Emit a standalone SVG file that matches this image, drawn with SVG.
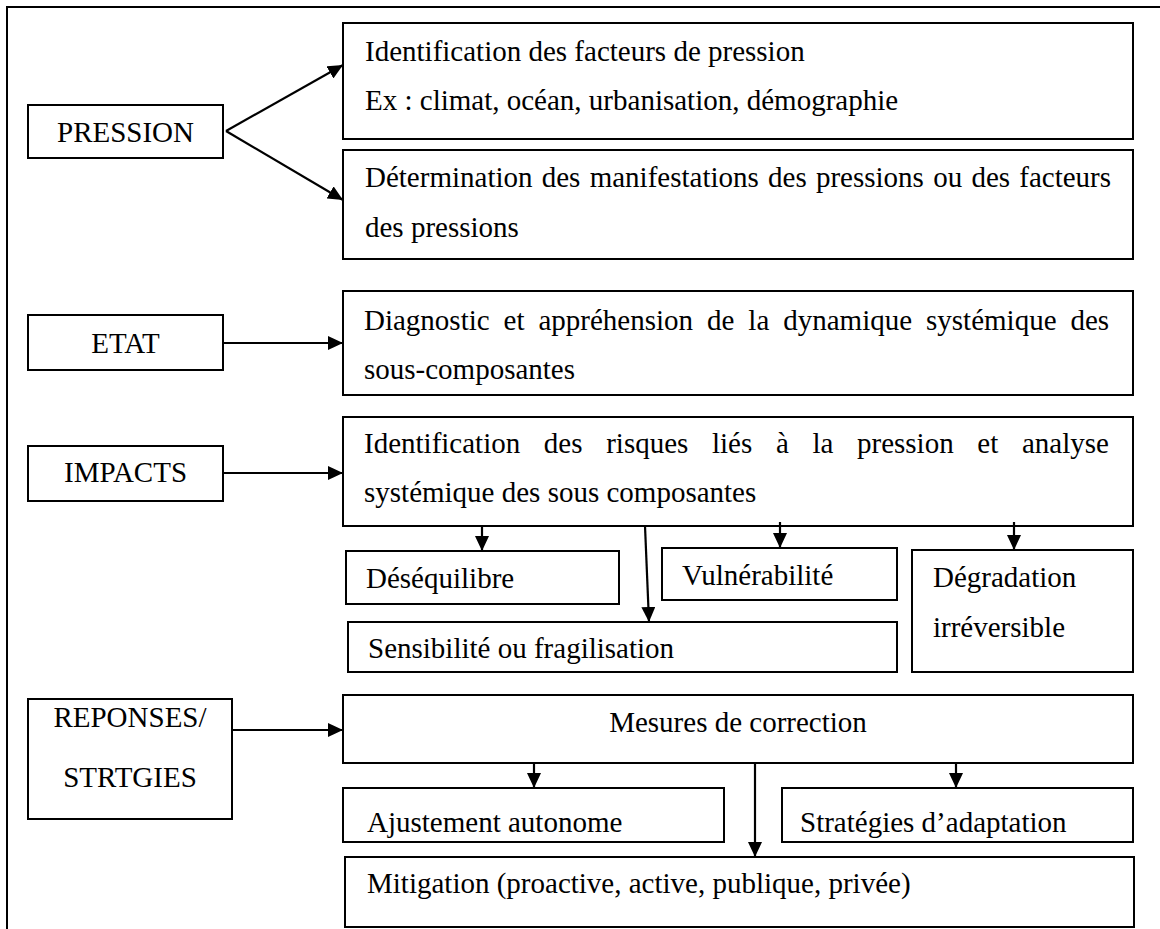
<svg xmlns="http://www.w3.org/2000/svg" width="1160" height="929" viewBox="0 0 1160 929">
<style>
.b{fill:#fff;stroke:#000;stroke-width:2}
.t{font-family:'Liberation Serif','Tinos','Times New Roman','DejaVu Serif',serif;font-size:29px;fill:#000}
.m{text-anchor:middle}
.c{stroke:#000;stroke-width:2.2;fill:none;marker-end:url(#ah)}
</style>
<defs>
<marker id="ah" markerUnits="userSpaceOnUse" markerWidth="16" markerHeight="14" refX="15" refY="7" orient="auto">
<path d="M0,0 L15,7 L0,14 Z" fill="#000"/>
</marker>
</defs>
<rect width="1160" height="929" fill="#fff"/>
<path d="M7,929 V7 H1160" fill="none" stroke="#000" stroke-width="2"/>

<g font-family="Liberation Serif, serif">
<g id="pression"><rect class="b" x="28" y="105" width="195" height="53"/><text class="t m" x="125.5" y="142">PRESSION</text></g>
<g id="facteurs"><rect class="b" x="343" y="23" width="790" height="116"/>
<text class="t" x="365" y="61">Identification des facteurs de pression</text>
<text class="t" x="365" y="110">Ex : climat, océan, urbanisation, démographie</text></g>
<g id="manifestations"><rect class="b" x="343" y="150" width="790" height="109"/>
<text class="t" x="365" y="187" word-spacing="2">Détermination des manifestations des pressions ou des facteurs</text>
<text class="t" x="365" y="237">des pressions</text></g>

<g id="etat"><rect class="b" x="28" y="315" width="195" height="55"/><text class="t m" x="125.5" y="353">ETAT</text></g>
<g id="diagnostic"><rect class="b" x="343" y="291" width="790" height="104"/>
<text class="t" x="364" y="330" word-spacing="6.7">Diagnostic et appréhension de la dynamique systémique des</text>
<text class="t" x="364" y="379">sous-composantes</text></g>

<g id="impacts"><rect class="b" x="28" y="446" width="195" height="55"/><text class="t m" x="125.5" y="482">IMPACTS</text></g>
<g id="risques"><rect class="b" x="343" y="417" width="790" height="109"/>
<text class="t" x="364" y="453" word-spacing="16.4">Identification des risques liés à la pression et analyse</text>
<text class="t" x="364" y="502">systémique des sous composantes</text></g>

<g id="desequilibre"><rect class="b" x="346" y="551" width="273" height="53"/><text class="t" x="366" y="588">Déséquilibre</text></g>
<g id="vulnerabilite"><rect class="b" x="662" y="548" width="235" height="52"/><text class="t" x="682" y="585">Vulnérabilité</text></g>
<g id="sensibilite"><rect class="b" x="348" y="622" width="549" height="50"/><text class="t" x="368" y="658">Sensibilité ou fragilisation</text></g>
<g id="degradation"><rect class="b" x="912" y="550" width="221" height="122"/>
<text class="t" x="933" y="587">Dégradation</text><text class="t" x="933" y="637">irréversible</text></g>

<g id="reponses"><rect class="b" x="28" y="699" width="204" height="120"/>
<text class="t m" x="130" y="727">REPONSES/</text><text class="t m" x="130" y="787">STRTGIES</text></g>
<g id="mesures"><rect class="b" x="343" y="695" width="790" height="68"/><text class="t m" x="738" y="732">Mesures de correction</text></g>
<g id="ajustement"><rect class="b" x="343" y="788" width="381" height="54"/><text class="t" x="367" y="832">Ajustement autonome</text></g>
<g id="strategies"><rect class="b" x="782" y="788" width="351" height="54"/><text class="t" x="800" y="832">Stratégies d’adaptation</text></g>
<g id="mitigation"><rect class="b" x="345" y="857" width="789" height="70"/><text class="t" x="367" y="893">Mitigation (proactive, active, publique, privée)</text></g>
</g>

<g id="connectors">
<line class="c" x1="226" y1="131" x2="343" y2="65"/>
<line class="c" x1="226" y1="131" x2="343" y2="200"/>
<line class="c" x1="224" y1="343" x2="343" y2="343"/>
<line class="c" x1="224" y1="473" x2="343" y2="473"/>
<line class="c" x1="482" y1="526" x2="482" y2="551"/>
<line class="c" x1="780" y1="522" x2="780" y2="548"/>
<line class="c" x1="1014" y1="522" x2="1014" y2="550"/>
<line class="c" x1="645" y1="526" x2="649" y2="622"/>
<line class="c" x1="233" y1="730" x2="343" y2="730"/>
<line class="c" x1="534" y1="763" x2="534" y2="788"/>
<line class="c" x1="956" y1="763" x2="956" y2="788"/>
<line class="c" x1="755" y1="763" x2="755" y2="857"/>
</g>
</svg>
